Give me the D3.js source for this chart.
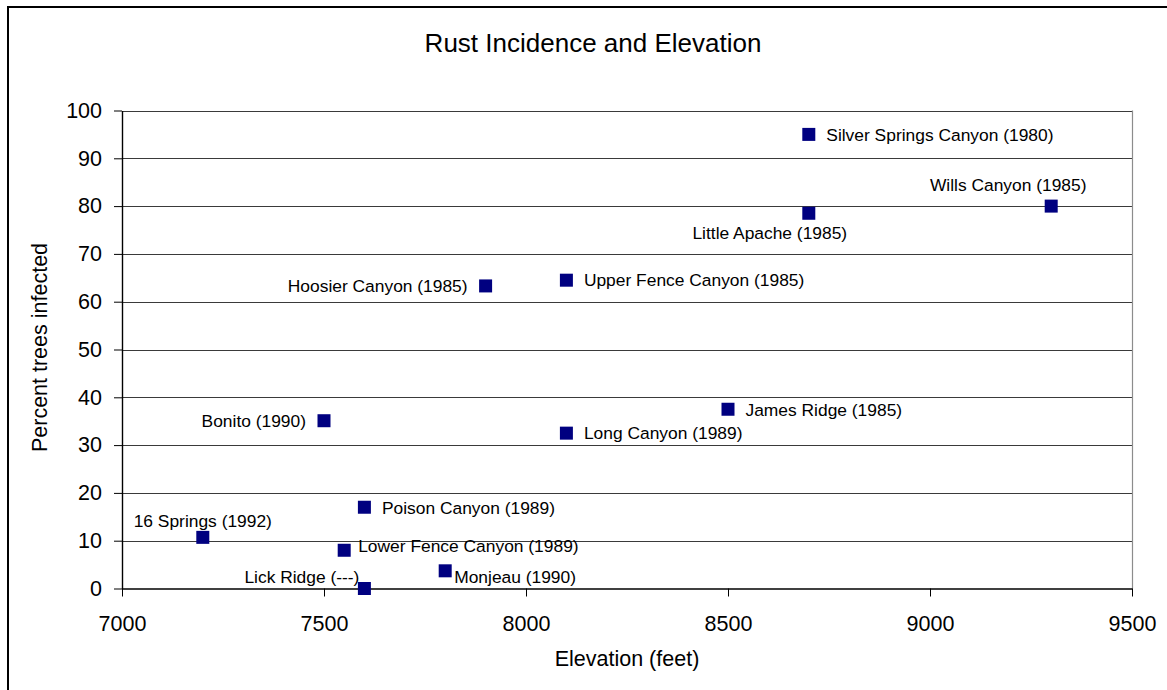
<!DOCTYPE html>
<html>
<head>
<meta charset="utf-8">
<script src="https://cdn.jsdelivr.net/npm/d3@7"></script>
<style>
  html, body { margin: 0; padding: 0; background: #fff; }
  svg { display: block; font-family: Arial, "Liberation Sans", sans-serif; }
</style>
</head>
<body>
<svg id="chart" width="1167" height="690"></svg>
<script>
// data
var sites = ['Silver Springs Canyon (1980)', 'Wills Canyon (1985)', 'Little Apache (1985)',
	'Hoosier Canyon (1985)', 'Upper Fence Canyon (1985)', 'Bonito (1990)', 'James Ridge (1985)',
	'Long Canyon (1989)', 'Poison Canyon (1989)', '16 Springs (1992)', 'Lower Fence Canyon (1989)',
	'Monjeau (1990)', 'Lick Ridge (---)'];
var elevation = [8700, 9300, 8700, 7900, 8100, 7500, 8500, 8100, 7600, 7200, 7550, 7800, 7600];
var infected = [95, 80, 78.5, 63.3, 64.5, 35.1, 37.5, 32.5, 17, 10.7, 8, 3.7, 0];
var labelSide = ['right', 'above-left', 'below-left', 'left', 'right', 'left', 'right',
	'right', 'right', 'above', 'right-up', 'right-down', 'left-up'];
var xTicks = [7000, 7500, 8000, 8500, 9000, 9500];
var yTicks = [0, 10, 20, 30, 40, 50, 60, 70, 80, 90, 100];

var svg = d3.select('#chart');
var plot = {left: 122, top: 110.5, right: 1132, bottom: 588.5};

var x = d3.scaleLinear().domain([7000, 9500]).range([plot.left, plot.right]);
var y = d3.scaleLinear().domain([0, 100]).range([plot.bottom, plot.top]);

// outer chart frame (runs off the right and bottom edges)
svg.append('rect')
	.attr('x', 8).attr('y', 7)
	.attr('width', 1200).attr('height', 720)
	.attr('fill', 'none').attr('stroke', '#000').attr('stroke-width', 2);

// gridlines
svg.append('g').selectAll('line')
	.data(yTicks.filter(function(d){ return d > 0; }))
	.enter().append('line')
		.attr('x1', plot.left).attr('x2', plot.right)
		.attr('y1', function(d){ return Math.round(y(d)) + 0.5; })
		.attr('y2', function(d){ return Math.round(y(d)) + 0.5; })
		.attr('stroke', '#3a3a3a').attr('stroke-width', 1.2);

// plot area right border
svg.append('line')
	.attr('x1', plot.right + 0.5).attr('x2', plot.right + 0.5)
	.attr('y1', plot.top).attr('y2', plot.bottom)
	.attr('stroke', '#8c8c8c').attr('stroke-width', 1.2);

var xAxis = svg.append('g')
	.attr('transform', 'translate(0,' + plot.bottom + ')')
	.call(d3.axisBottom(x).tickValues(xTicks).tickSize(8).tickSizeOuter(0).tickPadding(19)
		.tickFormat(d3.format('d')));
var yAxis = svg.append('g')
	.attr('transform', 'translate(' + plot.left + ',0)')
	.call(d3.axisLeft(y).tickValues(yTicks).tickSize(8).tickSizeOuter(0).tickPadding(12)
		.tickFormat(d3.format('d')));

[xAxis, yAxis].forEach(function(ax){
	ax.select('.domain').attr('stroke', '#000').attr('stroke-width', 1.4);
	ax.selectAll('.tick line').attr('stroke', '#000');
	ax.selectAll('.tick text')
		.attr('fill', '#000')
		.style('font-family', 'Arial, "Liberation Sans", sans-serif')
		.style('font-size', '21.5px');
});

// titles
svg.append('text')
	.attr('x', 593).attr('y', 52)
	.attr('text-anchor', 'middle')
	.style('font-size', '26px')
	.text('Rust Incidence and Elevation');
svg.append('text')
	.attr('x', (plot.left + plot.right) / 2).attr('y', 666)
	.attr('text-anchor', 'middle')
	.style('font-size', '21.5px')
	.text('Elevation (feet)');
svg.append('text')
	.attr('transform', 'translate(47,' + ((plot.top + plot.bottom) / 2 - 2) + ') rotate(-90)')
	.attr('text-anchor', 'middle')
	.style('font-size', '21.5px')
	.text('Percent trees infected');

// label placement, by side keyword
var placement = {
	'right':      {dx: 17.5, dy: 0, anchor: 'start'},
	'left':       {dx: -18, dy: 0, anchor: 'end'},
	'above':      {dx: 0, dy: -17, anchor: 'middle'},
	'above-left': {dx: -43, dy: -21, anchor: 'middle'},
	'below-left': {dx: -39, dy: 19, anchor: 'middle'},
	'right-up':   {dx: 14, dy: -5, anchor: 'start'},
	'right-down': {dx: 9, dy: 6, anchor: 'start'},
	'left-up':    {dx: -5, dy: -12, anchor: 'end'}
};

var points = sites.map(function(name, i){
	return {name: name, elev: elevation[i], pct: infected[i], side: labelSide[i]};
});

var size = 13;
svg.append('g').selectAll('rect')
	.data(points)
	.enter().append('rect')
		.attr('x', function(d){ return x(d.elev) - size / 2; })
		.attr('y', function(d){ return y(d.pct) - size / 2; })
		.attr('width', size).attr('height', size)
		.attr('fill', '#000080');

svg.append('g').selectAll('text')
	.data(points)
	.enter().append('text')
		.attr('x', function(d){ return x(d.elev) + placement[d.side].dx; })
		.attr('y', function(d){ return y(d.pct) + placement[d.side].dy; })
		.attr('dy', '0.36em')
		.attr('text-anchor', function(d){ return placement[d.side].anchor; })
		.style('font-size', '17.4px')
		.attr('fill', '#000')
		.text(function(d){ return d.name; });
</script>
</body>
</html>
